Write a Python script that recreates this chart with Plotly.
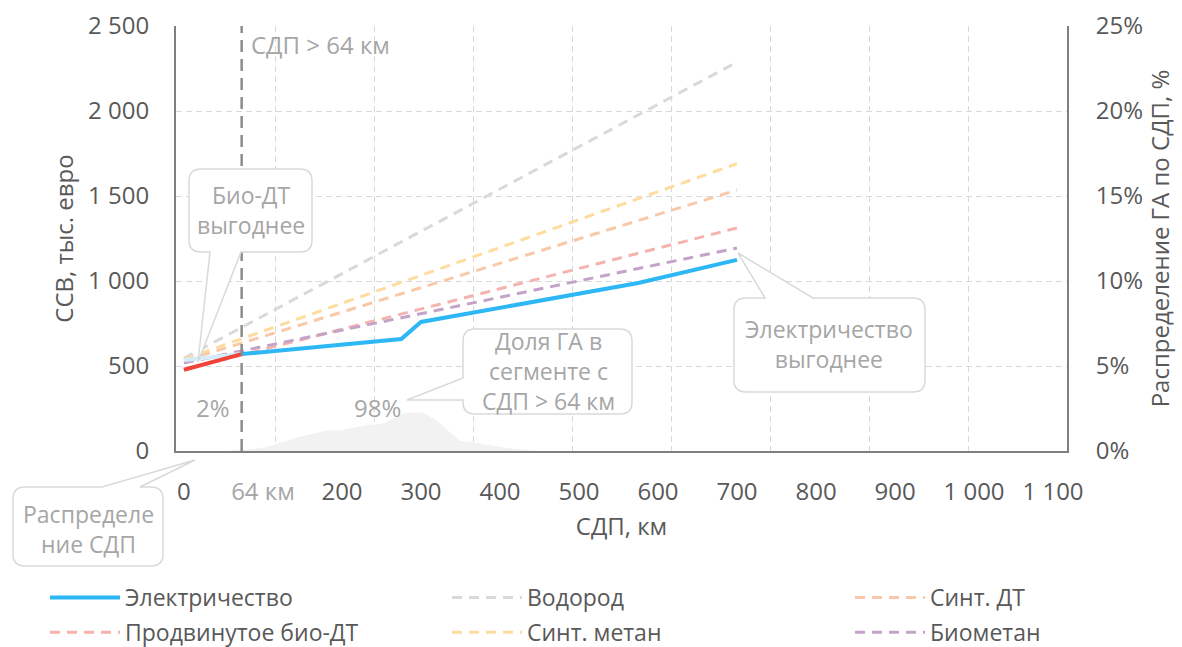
import plotly.graph_objects as go

# ---------------- data ----------------
km_ticks = [0, 100, 200, 300, 400, 500, 600, 700, 800, 900, 1000, 1100]
km_ticktext = ["0", "<span style='color:#A6A6A6'>64 км</span>", "200", "300", "400", "500",
               "600", "700", "800", "900", "1 000", "1 100"]
pct_ticks = [0, 5, 10, 15, 20, 25]
pct_ticktext = ["0%", "5%", "10%", "15%", "20%", "25%"]

crossover_km = 73

elec_x = [73, 275, 300, 575, 700]
elec_y = [570, 659, 759, 988, 1124]
elec_faded_x = [0, 73]
elec_faded_y = [535, 570]
biodt_best_x = [0, 73]
biodt_best_y = [478, 570]

line_x = [0, 700]
hydrogen_y = [545, 2288]
synth_methane_y = [540, 1690]
synth_dt_y = [530, 1535]
adv_biodt_y = [478, 1312]
biomethane_y = [518, 1194]

dist_km = [52, 84, 103, 143, 181, 197, 227, 252, 277, 301, 320, 349, 366, 404, 447]
dist_pct = [0, 0.1, 0.2, 0.8, 1.2, 1.2, 1.5, 1.6, 2.2, 2.3, 1.8, 0.6, 0.5, 0.2, 0]

# ---------------- style ----------------
FONT = "Open Sans"
TXT = "#595959"
ANN = "#A6A6A6"
GRID = "#D9D9D9"
AXIS = "#808080"

L, R, T, B = 176, 1067, 26, 451
W, H = R - L, B - T


def px(x):
    return (x - L) / W


def py(y):
    return (B - y) / H


fig = go.Figure()

fig.add_trace(go.Scatter(x=dist_km, y=dist_pct, yaxis="y2", mode="lines", fill="tozeroy",
                         fillcolor="#F2F2F2", line=dict(width=0, color="#F2F2F2"),
                         showlegend=False, hoverinfo="skip"))

series = [
    ("Водород", hydrogen_y, "#D9D9D9", "legend2", 1),
    ("Синт. метан", synth_methane_y, "#FFDC9E", "legend2", 2),
    ("Синт. ДТ", synth_dt_y, "#F8C9A9", "legend3", 1),
    ("Продвинутое био-ДТ", adv_biodt_y, "#F5B3AE", "legend", 2),
    ("Биометан", biomethane_y, "#C4A3C9", "legend3", 2),
]
for name, ys, col, lg, rank in series:
    fig.add_trace(go.Scatter(x=line_x, y=ys, mode="lines", name=name,
                             line=dict(color=col, width=3, dash="10px,7px"),
                             legend=lg, legendrank=rank, legendgroup=name))

fig.add_trace(go.Scatter(x=elec_faded_x, y=elec_faded_y, mode="lines",
                         line=dict(color="#D3EEFA", width=4), showlegend=False))
fig.add_trace(go.Scatter(x=biodt_best_x, y=biodt_best_y, mode="lines",
                         line=dict(color="#F0433A", width=4), showlegend=False))
fig.add_trace(go.Scatter(x=elec_x, y=elec_y, mode="lines", name="Электричество",
                         line=dict(color="#2DB7F5", width=4),
                         legend="legend", legendrank=1, legendgroup="Электричество"))

# vertical threshold line
fig.add_shape(type="line", xref="x", yref="paper", x0=crossover_km, x1=crossover_km, y0=0, y1=1,
              line=dict(color="#8C8C8C", width=2.5, dash="12px,7px"), layer="above")


def callout(x0, y0, x1, y1, r, wedge=None):
    pts = []
    pts.append(("M", (x0 + r, y0)))
    if wedge and wedge[0] == "top":
        pts += [("L", (wedge[1], y0)), ("L", wedge[3]), ("L", (wedge[2], y0))]
    pts.append(("L", (x1 - r, y0)))
    pts.append(("Q", (x1, y0), (x1, y0 + r)))
    pts.append(("L", (x1, y1 - r)))
    pts.append(("Q", (x1, y1), (x1 - r, y1)))
    if wedge and wedge[0] == "bottom":
        pts += [("L", (wedge[1], y1)), ("L", wedge[3]), ("L", (wedge[2], y1))]
    pts.append(("L", (x0 + r, y1)))
    pts.append(("Q", (x0, y1), (x0, y1 - r)))
    if wedge and wedge[0] == "left":
        pts += [("L", (x0, wedge[1])), ("L", wedge[3]), ("L", (x0, wedge[2]))]
    pts.append(("L", (x0, y0 + r)))
    pts.append(("Q", (x0, y0), (x0 + r, y0)))
    s = ""
    for item in pts:
        cmd = item[0]
        s += cmd + " " + " ".join("%.5f,%.5f" % (px(p[0]), py(p[1])) for p in item[1:]) + " "
    s += "Z"
    fig.add_shape(type="path", xref="paper", yref="paper", path=s,
                  line=dict(color="#D9D9D9", width=1.5), fillcolor="white", layer="above")


def label(text, cx, cy, anchor="center", size=23):
    fig.add_annotation(text=text, xref="paper", yref="paper", x=px(cx), y=py(cy),
                       showarrow=False, xanchor=anchor, yanchor="middle",
                       font=dict(family=FONT, size=size, color=ANN))


callout(189, 169, 312, 252, 12, ("bottom", 241, 210, (198, 362)))
label("Био-ДТ<br>выгоднее", 251, 210)

callout(463, 329, 632, 414, 12, ("left", 400, 378, (407, 400)))
label("Доля ГА в<br>сегменте с<br>СДП > 64 км", 548, 371)

callout(734, 298, 925, 392, 12, ("top", 765, 813, (738, 253)))
label("Электричество<br>выгоднее", 829, 344)

callout(13, 487, 163, 566, 12, ("top", 102, 140, (195, 460)))
label("Распределе<br>ние СДП", 88, 529)

label("СДП > 64 км", 249, 45, anchor="left", size=24)
label("2%", 213, 407, size=24)
label("98%", 377, 407, size=24)

tickfont = dict(family=FONT, size=24, color=TXT)
titlefont = dict(family=FONT, size=24, color=TXT)

legend_common = dict(orientation="v", font=dict(family=FONT, size=23, color=TXT),
                     bgcolor="rgba(0,0,0,0)", itemwidth=70, tracegroupgap=2,
                     yanchor="top", xanchor="left", y=py(576))

fig.update_layout(
    width=1182, height=647,
    margin=dict(l=L, r=1182 - R, t=T, b=647 - B, autoexpand=False),
    paper_bgcolor="white", plot_bgcolor="white",
    separators=", ",
    font=dict(family=FONT, size=24, color=TXT),
    xaxis=dict(range=[-10.1, 1117.7], tickvals=km_ticks, ticktext=km_ticktext,
               showgrid=False, zeroline=False, showline=True, linecolor=AXIS, linewidth=2,
               ticks="", tickfont=tickfont, ticklabelstandoff=18,
               title=dict(text="СДП, км", font=titlefont, standoff=12)),
    xaxis2=dict(range=[0, 9], dtick=1, overlaying="x", side="top", showgrid=True,
                gridcolor=GRID, griddash="6px,4px", gridwidth=1, showticklabels=False,
                zeroline=False, showline=False, ticks=""),
    yaxis=dict(range=[0, 2500], dtick=500, tickformat=",d", showgrid=True, gridcolor=GRID,
               griddash="6px,4px", gridwidth=1, zeroline=False, showline=True,
               linecolor=AXIS, linewidth=2, ticks="", tickfont=tickfont, ticklabelstandoff=20,
               title=dict(text="ССВ, тыс. евро", font=titlefont, standoff=8)),
    yaxis2=dict(range=[0, 25], tickvals=pct_ticks, ticktext=pct_ticktext,
                overlaying="y", side="right", showgrid=False, zeroline=False, showline=True,
                linecolor=AXIS, linewidth=2, ticks="", tickfont=tickfont, ticklabelstandoff=22,
                title=dict(text="Распределение ГА по СДП, %", font=titlefont, standoff=8)),
    legend=dict(x=px(45), **legend_common),
    legend2=dict(x=px(447), **legend_common),
    legend3=dict(x=px(850), **legend_common),
    showlegend=True,
)

# dummy trace to activate xaxis2 gridlines
fig.add_trace(go.Scatter(x=[None], y=[None], xaxis="x2", showlegend=False, hoverinfo="skip"))

fig.write_html("out.html", config={"displayModeBar": False},
               post_script="document.body.style.margin='0px';document.body.style.overflow='hidden';")
